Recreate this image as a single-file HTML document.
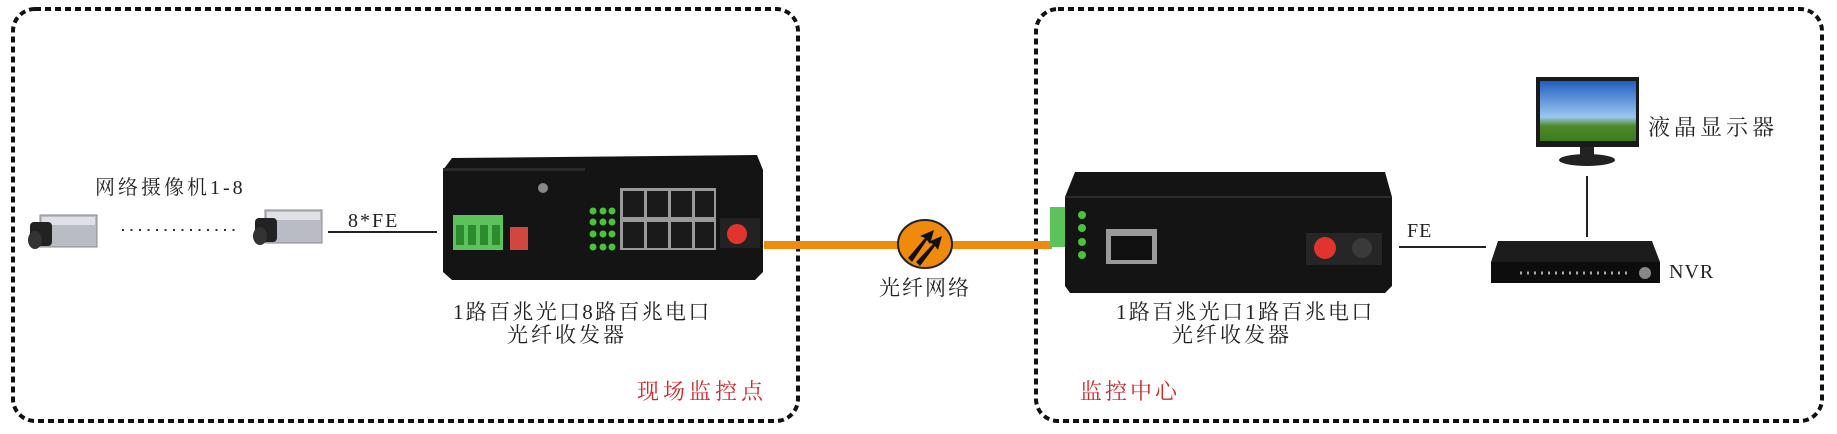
<!DOCTYPE html>
<html><head><meta charset="utf-8"><style>
html,body{margin:0;padding:0;background:#fff}
body{width:1837px;height:434px;position:relative;overflow:hidden}
.t{position:absolute;font-family:"Liberation Serif","Noto Serif CJK SC",serif;color:#222;white-space:nowrap;line-height:1}
.r{color:#d0282e}
</style></head><body>
<svg width="1837" height="434" style="position:absolute;left:0;top:0">
<rect x="13" y="9" width="785" height="412" rx="22" fill="none" stroke="#111" stroke-width="4" stroke-dasharray="6 4"/>
<rect x="1036" y="9" width="786" height="412" rx="22" fill="none" stroke="#111" stroke-width="4" stroke-dasharray="6 4"/>
<g>
<rect x="40" y="215" width="57" height="32" fill="#b9bcc4" stroke="#888"/>
<rect x="42" y="217" width="53" height="8" fill="#dfe1e6"/>
<rect x="30" y="222" width="22" height="24" rx="4" fill="#222"/>
<ellipse cx="35" cy="240" rx="7" ry="9" fill="#333"/>
</g>
<g>
<rect x="265" y="210" width="57" height="33" fill="#b9bcc4" stroke="#888"/>
<rect x="267" y="212" width="53" height="8" fill="#dfe1e6"/>
<rect x="255" y="218" width="22" height="24" rx="4" fill="#222"/>
<ellipse cx="260" cy="236" rx="7" ry="9" fill="#333"/>
</g>
<line x1="122" y1="230" x2="240" y2="230" stroke="#333" stroke-width="2" stroke-dasharray="2 6.5"/>
<line x1="328" y1="232" x2="437" y2="232" stroke="#222" stroke-width="2"/>
<line x1="764" y1="245" x2="1052" y2="245" stroke="#ef8a0c" stroke-width="8"/>
<ellipse cx="925" cy="244" rx="27" ry="24" fill="#ef8a0c" stroke="#222" stroke-width="2"/>
<path d="M908 258 L925 238 L920 236 L934 230 L930 244 L927 240 L912 262Z" fill="#111"/>
<path d="M916 262 L933 244 L928 242 L942 236 L938 250 L935 246 L920 266Z" fill="#111"/>
<path d="M452 158 L757 155 L763 170 L763 272 L755 280 L452 280 L443 272 L443 170Z" fill="#141414"/>
<rect x="443" y="168" width="142" height="3" fill="#2a2a2a"/>
<circle cx="543" cy="188" r="5" fill="#888"/>
<rect x="453" y="215" width="50" height="35" fill="#5cc25c"/>
<rect x="456" y="225" width="8" height="20" fill="#2e8a2e"/><rect x="468" y="225" width="8" height="20" fill="#2e8a2e"/><rect x="480" y="225" width="8" height="20" fill="#2e8a2e"/><rect x="492" y="225" width="8" height="20" fill="#2e8a2e"/>
<rect x="510" y="227" width="18" height="23" fill="#d0473f"/>
<g fill="#49c43a">
<circle cx="593" cy="211" r="3.5"/><circle cx="603" cy="211" r="3.5"/><circle cx="612" cy="211" r="3.5"/>
<circle cx="593" cy="222" r="3.5"/><circle cx="603" cy="222" r="3.5"/><circle cx="612" cy="222" r="3.5"/>
<circle cx="593" cy="234" r="3.5"/><circle cx="603" cy="234" r="3.5"/><circle cx="612" cy="234" r="3.5"/>
<circle cx="593" cy="247" r="3.5"/><circle cx="603" cy="247" r="3.5"/><circle cx="612" cy="247" r="3.5"/>
</g>
<rect x="620" y="188" width="96" height="62" fill="#9a9a9a"/>
<g fill="#1a1a1a">
<rect x="623" y="191" width="21" height="26"/><rect x="647" y="191" width="21" height="26"/><rect x="671" y="191" width="21" height="26"/><rect x="695" y="191" width="19" height="26"/>
<rect x="623" y="222" width="21" height="26"/><rect x="647" y="222" width="21" height="26"/><rect x="671" y="222" width="21" height="26"/><rect x="695" y="222" width="19" height="26"/>
</g>
<rect x="720" y="218" width="40" height="30" fill="#222"/>
<circle cx="737" cy="234" r="10" fill="#e2342f"/>
<rect x="1050" y="207" width="15" height="40" fill="#5cc25c"/>
<path d="M1075 172 L1385 172 L1392 197 L1392 286 L1385 293 L1070 293 L1065 286 L1065 197Z" fill="#141414"/>
<rect x="1065" y="196" width="327" height="2" fill="#2c2c2c"/>
<g fill="#49c43a"><circle cx="1082" cy="215" r="4"/><circle cx="1082" cy="228" r="4"/><circle cx="1082" cy="242" r="4"/><circle cx="1082" cy="255" r="4"/></g>
<rect x="1106" y="229" width="51" height="35" fill="#9a9a9a"/>
<rect x="1111" y="236" width="41" height="24" fill="#111"/>
<rect x="1306" y="233" width="76" height="32" fill="#262626"/>
<circle cx="1325" cy="248" r="11" fill="#e2342f"/>
<circle cx="1362" cy="248" r="10" fill="#3a3a3a"/>
<line x1="1399" y1="247" x2="1486" y2="247" stroke="#222" stroke-width="2"/>
<path d="M1498 241 L1652 241 L1660 262 L1660 283 L1491 283 L1491 262Z" fill="#1c1c1c"/>
<rect x="1491" y="262" width="169" height="21" fill="#0d0d0d"/>
<line x1="1520" y1="273" x2="1630" y2="273" stroke="#aaa" stroke-width="3" stroke-dasharray="2 5"/>
<circle cx="1645" cy="273" r="6" fill="#888"/>
<line x1="1587" y1="176" x2="1587" y2="237" stroke="#222" stroke-width="2"/>
<rect x="1536" y="77" width="103" height="70" fill="#1a1a1a"/>
<defs><linearGradient id="sk" x1="0" y1="0" x2="0" y2="1"><stop offset="0" stop-color="#1f5fbf"/><stop offset="0.6" stop-color="#9cc7ee"/><stop offset="0.75" stop-color="#4f8a2a"/><stop offset="1" stop-color="#3c7a1c"/></linearGradient></defs>
<rect x="1540" y="81" width="96" height="60" fill="url(#sk)"/>
<rect x="1580" y="147" width="14" height="8" fill="#222"/>
<ellipse cx="1587" cy="160" rx="28" ry="6" fill="#222"/>
</svg>
<div class="t" style="left:95px;top:178px;font-size:20px;letter-spacing:3px">网络摄像机1-8</div>
<div class="t" style="left:348px;top:211px;font-size:20px;letter-spacing:2px">8*FE</div>
<div class="t" style="left:453px;top:302px;font-size:21px;letter-spacing:2.3px">1路百兆光口8路百兆电口</div>
<div class="t" style="left:507px;top:325px;font-size:21px;letter-spacing:3px">光纤收发器</div>
<div class="t r" style="left:637px;top:381px;font-size:22px;letter-spacing:4px">现场监控点</div>
<div class="t" style="left:879px;top:278px;font-size:21px;letter-spacing:2px">光纤网络</div>
<div class="t" style="left:1116px;top:302px;font-size:21px;letter-spacing:2.3px">1路百兆光口1路百兆电口</div>
<div class="t" style="left:1172px;top:325px;font-size:21px;letter-spacing:3px">光纤收发器</div>
<div class="t r" style="left:1080px;top:381px;font-size:22px;letter-spacing:3px">监控中心</div>
<div class="t" style="left:1407px;top:221px;font-size:20px;letter-spacing:1px">FE</div>
<div class="t" style="left:1669px;top:262px;font-size:20px;letter-spacing:1px">NVR</div>
<div class="t" style="left:1648px;top:117px;font-size:22px;letter-spacing:4px">液晶显示器</div>
</body></html>
